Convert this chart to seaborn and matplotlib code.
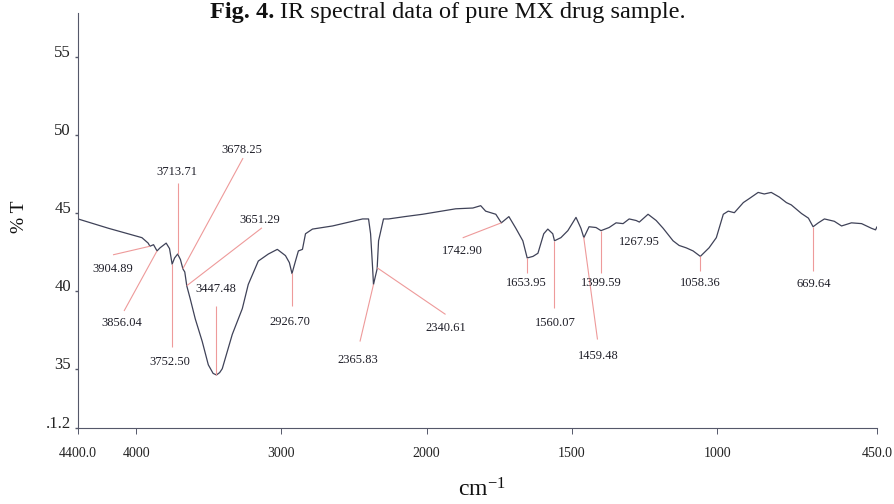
import numpy as np
import pandas as pd
import matplotlib
matplotlib.use("Agg")
import matplotlib.pyplot as plt
import seaborn as sns

# IR spectrum of the pure MX drug sample (wavenumber in cm-1, transmittance in %T)
wavenumber = [
    4400, 4190, 3960, 3917, 3905, 3880, 3856, 3835, 3793, 3770, 3752, 3735, 3714,
    3695, 3678, 3665, 3651, 3628, 3593, 3545, 3503, 3470, 3447, 3425, 3407, 3338,
    3269, 3228, 3159, 3090, 3028, 2972, 2945, 2927, 2903, 2883, 2855, 2834, 2786,
    2648, 2441, 2400, 2386, 2372, 2366, 2341, 2331, 2297, 2262, 2150, 2028, 1900,
    1841, 1814, 1797, 1762, 1743, 1717, 1693, 1669, 1654, 1634, 1617, 1597, 1583,
    1566, 1560, 1538, 1514, 1486, 1469, 1459, 1441, 1417, 1400, 1372, 1348, 1324,
    1303, 1279, 1268, 1238, 1210, 1186, 1152, 1131, 1107, 1083, 1058, 1028, 1003,
    979, 962, 941, 910, 890, 859, 838, 814, 786, 762, 745, 710, 686, 670, 652, 631,
    597, 572, 538, 503, 469, 455, 450,
]
transmittance = [
    44.6, 44.0, 43.4, 43.05, 42.85, 42.95, 42.55, 42.75, 43.05, 42.7, 41.7, 42.1, 42.35,
    42.0, 41.4, 41.2, 40.3, 39.5, 38.2, 36.75, 35.25, 34.7, 34.6, 34.75, 35.0, 37.2,
    38.85, 40.4, 41.9, 42.35, 42.65, 42.25, 41.8, 41.1, 41.9, 42.55, 42.65, 43.65, 43.95,
    44.15, 44.6, 44.6, 43.65, 41.45, 40.4, 41.4, 43.2, 44.6, 44.6, 44.75, 44.9, 45.25,
    45.3, 45.45, 45.1, 44.9, 44.35, 44.75, 44.0, 43.2, 42.1, 42.2, 42.4, 43.65, 43.95,
    43.65, 43.2, 43.4, 43.85, 44.7, 44.0, 43.4, 44.1, 44.05, 43.85, 44.05, 44.35, 44.3,
    44.6, 44.5, 44.4, 44.9, 44.5, 44.0, 43.2, 42.9, 42.75, 42.55, 42.2, 42.75, 43.4,
    44.9, 45.1, 45.0, 45.65, 45.9, 46.3, 46.2, 46.3, 46.0, 45.65, 45.5, 44.95, 44.65, 44.1, 44.35, 44.6,
    44.45, 44.15, 44.35, 44.3, 44.0, 43.9, 44.1,
]

peak_wavenumbers = [
    3904.89, 3856.04, 3752.50, 3713.71, 3678.25, 3651.29, 3447.48, 2926.70, 2365.83,
    2340.61, 1742.90, 1653.95, 1560.07, 1459.48, 1399.59, 1267.95, 1058.36, 669.64,
]

x_ticks = [4400, 4000, 3000, 2000, 1500, 1000, 450]
x_tick_labels = ["4400.0", "4000", "3000", "2000", "1500", "1000", "450.0"]
y_ticks = [31.2, 35, 40, 45, 50, 55]
y_tick_labels = [".1.2", "35", "40", "45", "50", "55"]

# label placement: (text anchor), (far end of the leader line or None)
label_layout = {
    3904.89: ((4159, 41.39), (4159, 42.3)),
    3856.04: ((4097, 37.9), (4083, 38.7)),
    3752.50: ((3767, 35.45), (3752.5, 36.4)),
    3713.71: ((3717, 47.58), (3713.71, 46.9)),
    3678.25: ((3271, 49.0), (3264, 48.5)),
    3651.29: ((3147, 44.55), (3134, 44.03)),
    3447.48: ((3450, 40.1), (3447.48, 39.0)),
    2926.70: ((2941, 37.97), (2926.7, 39.0)),
    2365.83: ((2473, 35.58), (2459, 36.74)),
    2340.61: ((1935, 37.58), (1935, 38.48)),
    1742.90: ((1876, 42.55), (1876, 43.39)),
    1653.95: ((1656, 40.48), (1653.95, 41.13)),
    1560.07: ((1556, 37.9), (1560.07, 38.87)),
    1459.48: ((1408, 35.84), (1412, 36.87)),
    1399.59: ((1398, 40.48), (1399.59, 41.13)),
    1267.95: ((1267, 43.13), None),
    1058.36: ((1057, 40.48), (1058.36, 41.26)),
    669.64: ((668, 40.42), (669.64, 41.26)),
}

SERIF = ["Liberation Serif", "DejaVu Serif"]

sns.set_theme(style="white")
plt.rcParams["font.family"] = SERIF
plt.rcParams["mathtext.fontset"] = "custom"
plt.rcParams["mathtext.rm"] = "Liberation Serif"
plt.rcParams["mathtext.it"] = "Liberation Serif:italic"

fig = plt.figure(figsize=(8.95, 5.04), dpi=100)
ax = fig.add_axes([78 / 895, 1 - 428 / 504, (877 - 78) / 895, (428 - 13) / 504])

spectrum = pd.DataFrame({"wavenumber": wavenumber, "transmittance": transmittance})
sns.lineplot(data=spectrum, x="wavenumber", y="transmittance", estimator=None,
             color="#3f4258", linewidth=0.9, ax=ax)


# the instrument halves the scale below 2000 cm-1
def _fwd(w):
    w = np.asarray(w, dtype=float)
    return np.where(w >= 2000, w, 2 * w - 2000)


def _inv(x):
    x = np.asarray(x, dtype=float)
    return np.where(x >= 2000, x, (x + 2000) / 2)


ax.set_xscale("function", functions=(_fwd, _inv))
ax.set_xlim(4400, 450)
ax.set_ylim(31.2, 57.8)

ax.set_xticks(x_ticks)
ax.set_xticklabels(x_tick_labels)
ax.set_yticks(y_ticks)
ax.set_yticklabels(y_tick_labels)
ax.minorticks_off()
ax.tick_params(axis="x", direction="out", length=4.5, width=0.7, pad=9,
               labelsize=10, color="#55586a", labelcolor="#222222", bottom=True)
ax.tick_params(axis="y", direction="out", length=2, width=1.0, pad=3,
               labelsize=12, color="#55586a", labelcolor="#222222", left=True)
for lab in ax.get_yticklabels():
    lab.set_verticalalignment("baseline")

ax.set_xlabel("")
ax.set_ylabel("")
for side in ("top", "right"):
    ax.spines[side].set_visible(False)
for side in ("left", "bottom"):
    ax.spines[side].set_color("#55586a")
    ax.spines[side].set_linewidth(0.8)

# peak annotations with pink leader lines
wn_asc = np.asarray(wavenumber, dtype=float)[::-1]
t_asc = np.asarray(transmittance, dtype=float)[::-1]
for peak in peak_wavenumbers:
    (lx, ly), leader = label_layout[peak]
    peak_t = float(np.interp(peak, wn_asc, t_asc))
    if leader is not None:
        ax.plot([leader[0], peak], [leader[1], peak_t], color="#ee9a9a", lw=0.8,
                solid_capstyle="butt")
    ax.text(lx, ly, f"{peak:.2f}", ha="center", va="center", fontsize=9,
            color="#1e1e28")

# caption and axis titles
TITLE_BASE = 1 - 18 / 504
t1 = fig.text(210 / 895, TITLE_BASE, "Fig. 4.", fontsize=17.5, fontweight="bold",
              ha="left", va="baseline", color="#111111")
fig.canvas.draw()
bb = t1.get_window_extent()
fig.text((bb.x1 + 6) / 895, TITLE_BASE, "IR spectral data of pure MX drug sample.",
         fontsize=17.5, ha="left", va="baseline", color="#111111")

fig.text(20 / 895, 1 - 217 / 504, "% T", rotation=90, fontsize=14,
         ha="center", va="center", color="#111111")
fig.text(482 / 895, 1 - 490 / 504, r"cm$^{-1}$", fontsize=17,
         ha="center", va="center", color="#111111")

fig.savefig("out.png", dpi=100)
